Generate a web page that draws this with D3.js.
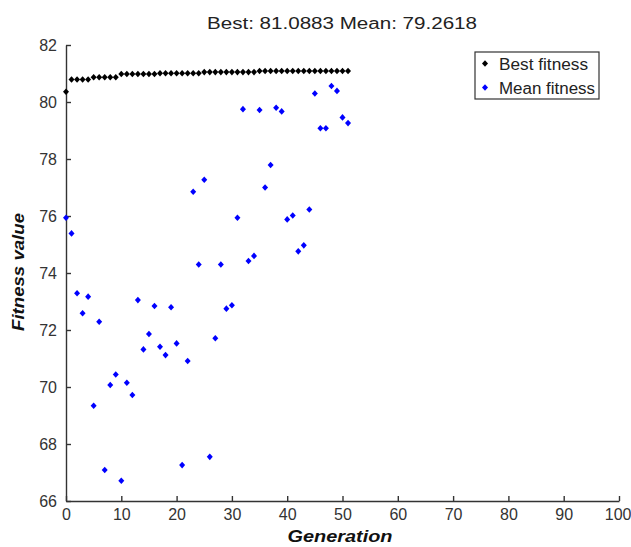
<!DOCTYPE html>
<html>
<head>
<meta charset="utf-8">
<script src="https://cdn.jsdelivr.net/npm/d3@7"></script>
<style>
  body { margin: 0; background: #fff; }
  text { font-family: "Liberation Sans", Arial, sans-serif; }
</style>
</head>
<body>
<svg id="chart" width="631" height="547"></svg>
<script>
// best fitness per generation (gen 0..51)
var bestFitness = [
  80.36,
  80.79, 80.79, 80.79, 80.79,
  80.87, 80.87, 80.87, 80.87, 80.87,
  80.98, 80.98, 80.98, 80.98, 80.98, 80.98, 80.98,
  81.01, 81.01, 81.01, 81.01, 81.01, 81.01, 81.01, 81.01,
  81.05, 81.05, 81.05, 81.05, 81.05, 81.05, 81.05, 81.05, 81.05, 81.05,
  81.0883, 81.0883, 81.0883, 81.0883, 81.0883, 81.0883, 81.0883, 81.0883, 81.0883,
  81.0883, 81.0883, 81.0883, 81.0883, 81.0883, 81.0883, 81.0883, 81.0883
];

// mean fitness per generation (gen 0..51)
var meanFitness = [
  75.94, 75.39, 73.29, 72.59, 73.17, 69.34, 72.29, 67.09, 70.07, 70.44,
  66.71, 70.15, 69.72, 73.05, 71.32, 71.86, 72.84, 71.41, 71.12, 72.80,
  71.53, 67.26, 70.91, 76.85, 74.30, 77.27, 67.55, 71.71, 74.30, 72.75,
  72.87, 75.94, 79.75, 74.42, 74.60, 79.72, 77.00, 77.79, 79.80, 79.67,
  75.88, 76.02, 74.76, 74.97, 76.23, 80.30, 79.08, 79.08, 80.56, 80.39,
  79.46, 79.26
];

var xTicks = [0, 10, 20, 30, 40, 50, 60, 70, 80, 90, 100];
var yTicks = [66, 68, 70, 72, 74, 76, 78, 80, 82];
var seriesNames = ['Best fitness', 'Mean fitness'];
var seriesColors = ['#000000', '#0000ff'];

var svg = d3.select('#chart');

var x = d3.scaleLinear().domain([0, 100]).range([66, 619]);
var y = d3.scaleLinear().domain([66, 82]).range([501, 45]);

//diamond marker
function diamond(cx, cy) {
  return 'M' + cx + ',' + (cy - 3.3) + 'L' + (cx + 3) + ',' + cy +
    'L' + cx + ',' + (cy + 3.3) + 'L' + (cx - 3) + ',' + cy + 'Z';
}

//axes
var xAxis = svg.append('g')
  .attr('transform', 'translate(0,' + y.range()[0] + ')')
  .call(d3.axisBottom(x).tickValues(xTicks).tickSizeInner(-5).tickSizeOuter(0).tickPadding(8));

var yAxis = svg.append('g')
  .attr('transform', 'translate(' + x.range()[0] + ',0)')
  .call(d3.axisLeft(y).tickValues(yTicks).tickSizeInner(-5).tickSizeOuter(0).tickPadding(9));

[xAxis, yAxis].forEach(function(a) {
  a.selectAll('path, line').attr('stroke', '#333').attr('stroke-width', 1.4);
  a.selectAll('text').attr('fill', '#333').style('font-size', '16px');
});

//last x label sits at the window edge, keep it inside
xAxis.selectAll('.tick').filter(function(d) { return d === 100; })
  .select('text').attr('text-anchor', 'end').attr('x', 12);

//series
var series = [bestFitness, meanFitness];
series.forEach(function(vals, k) {
  svg.append('g')
    .selectAll('path')
    .data(vals)
    .enter().append('path')
    .attr('d', function(d, i) { return diamond(x(i), y(d)); })
    .attr('fill', seriesColors[k]);
});

//title
svg.append('text')
  .attr('x', 342).attr('y', 29)
  .attr('text-anchor', 'middle')
  .attr('textLength', 270).attr('lengthAdjust', 'spacingAndGlyphs')
  .style('font-size', '16px').attr('fill', '#222')
  .text('Best: 81.0883 Mean: 79.2618');

//axis labels
svg.append('text')
  .attr('x', 340).attr('y', 542)
  .attr('text-anchor', 'middle')
  .attr('textLength', 105).attr('lengthAdjust', 'spacingAndGlyphs')
  .style('font-size', '17px').style('font-weight', 'bold').style('font-style', 'italic')
  .attr('fill', '#111')
  .text('Generation');

svg.append('text')
  .attr('transform', 'translate(24,272) rotate(-90)')
  .attr('text-anchor', 'middle')
  .attr('textLength', 118).attr('lengthAdjust', 'spacingAndGlyphs')
  .style('font-size', '17px').style('font-weight', 'bold').style('font-style', 'italic')
  .attr('fill', '#111')
  .text('Fitness value');

//legend
var legend = svg.append('g');
legend.append('rect')
  .attr('x', 475).attr('y', 52).attr('width', 124).attr('height', 47)
  .attr('fill', '#fff').attr('stroke', '#333').attr('stroke-width', 1.2);

var legendWidths = [89, 96];
seriesNames.forEach(function(name, k) {
  var ly = 63.5 + k * 24;
  legend.append('path')
    .attr('d', diamond(485, ly))
    .attr('fill', seriesColors[k]);
  legend.append('text')
    .attr('x', 499).attr('y', ly + 6)
    .attr('textLength', legendWidths[k]).attr('lengthAdjust', 'spacingAndGlyphs')
    .style('font-size', '16px').attr('fill', '#222')
    .text(name);
});
</script>
</body>
</html>
